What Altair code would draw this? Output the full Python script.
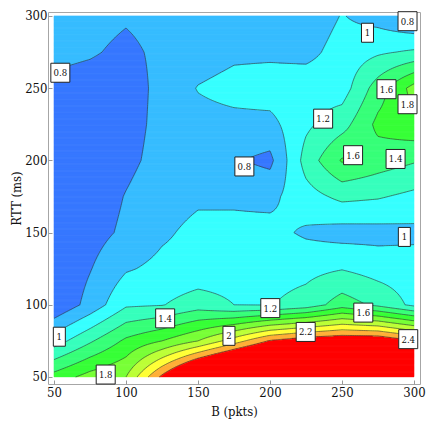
import numpy as np
import pandas as pd
import altair as alt

# ---------------- data ----------------
B_PKTS = [50, 75, 100, 125, 150, 175, 200, 225, 250, 275, 300]
RTT_MS = [50, 75, 100, 125, 150, 175, 200, 225, 250, 275, 300]

# measured quantity at each (RTT row, B column)
Z_RTT_050 = [1.68, 1.88, 2.00, 2.65, 3.25, 3.60, 3.80, 4.00, 4.00, 4.00, 4.00]
Z_RTT_075 = [1.10, 1.37, 1.64, 1.80, 2.00, 2.30, 2.62, 2.75, 2.80, 2.80, 2.62]
Z_RTT_100 = [0.62, 0.87, 1.17, 1.19, 1.30, 1.20, 1.19, 1.28, 1.50, 1.35, 1.15]
Z_RTT_125 = [0.62, 0.79, 0.98, 1.05, 1.07, 1.10, 1.12, 1.14, 1.19, 1.12, 1.10]
Z_RTT_150 = [0.60, 0.72, 0.84, 0.97, 1.05, 1.05, 1.06, 0.97, 0.92, 0.93, 0.95]
Z_RTT_175 = [0.60, 0.68, 0.81, 0.92, 0.97, 0.97, 0.95, 1.12, 1.25, 1.22, 1.15]
Z_RTT_200 = [0.62, 0.66, 0.75, 0.87, 0.90, 0.82, 0.75, 1.28, 1.62, 1.50, 1.42]
Z_RTT_225 = [0.66, 0.68, 0.72, 0.86, 0.93, 0.94, 0.94, 1.16, 1.32, 1.65, 1.75]
Z_RTT_250 = [0.75, 0.72, 0.70, 0.86, 1.01, 1.07, 1.10, 1.12, 1.10, 1.50, 1.88]
Z_RTT_275 = [0.85, 0.82, 0.76, 0.84, 0.90, 0.96, 0.96, 0.94, 1.08, 1.17, 1.23]
Z_RTT_300 = [0.90, 0.86, 0.82, 0.86, 0.88, 0.88, 0.88, 0.87, 1.01, 0.92, 0.78]

Z_GRID = [Z_RTT_050, Z_RTT_075, Z_RTT_100, Z_RTT_125, Z_RTT_150, Z_RTT_175,
          Z_RTT_200, Z_RTT_225, Z_RTT_250, Z_RTT_275, Z_RTT_300]

LEVELS = [0.8, 1.0, 1.2, 1.4, 1.6, 1.8, 2.0, 2.2, 2.4, 2.6]
BAND_COLORS = ["#3878ff", "#38bdff", "#38ffff", "#38ffbd", "#38ff7a",
               "#38ff38", "#7aff38", "#bdff38", "#ffff38", "#ffb038", "#ff0000"]

LABEL_TEXT = ["0.8", "1", "0.8", "1.6", "1.8", "1.2", "0.8", "1.6", "1.4",
              "1", "1.2", "1.4", "2", "1.6", "2.2", "2.4", "1", "1.8"]
LABEL_B = [54.4, 267.7, 295.5, 280.9, 295.5, 236.9, 182.2, 257.7, 287.2,
           293.3, 200.2, 127.2, 171.5, 264.8, 224.8, 296.0, 53.7, 85.9]
LABEL_RTT = [260.7, 288.4, 296.4, 249.3, 238.9, 228.9, 195.8, 203.6, 201.0,
             147.0, 97.7, 90.6, 78.5, 94.6, 81.2, 76.2, 77.9, 51.7]

TICKS = [50, 100, 150, 200, 250, 300]

# ---------------- field evaluation (bilinear on the grid) ----------------
Z = np.array(Z_GRID, dtype=float)
bx = np.array(B_PKTS, dtype=float)
ry = np.array(RTT_MS, dtype=float)


def row_values(y, xs):
    zc = np.array([np.interp(y, ry, Z[:, j]) for j in range(len(bx))])
    return np.interp(xs, bx, zc)


# filled bands as run-length rects
dy = 0.6
xs = np.arange(50, 300.00001, 0.1)
rects = []
y0 = 50.0
while y0 < 300 - 1e-9:
    y1 = min(y0 + dy, 300.0)
    vals = row_values((y0 + y1) / 2, xs)
    bands = np.searchsorted(LEVELS, vals, side="right")
    change = np.nonzero(np.diff(bands))[0]
    starts = np.concatenate([[0], change + 1])
    ends = np.concatenate([change, [len(xs) - 1]])
    for s, e in zip(starts, ends):
        xa = 50.0 if s == 0 else (xs[s - 1] + xs[s]) / 2
        xb = 300.0 if e == len(xs) - 1 else (xs[e] + xs[e + 1]) / 2
        rects.append({"x": xa, "x2": min(xb + 0.3, 300.0), "y": y0,
                      "y2": min(y0 + dy * 1.6, 300.0), "c": BAND_COLORS[bands[s]]})
    y0 = y1
rect_df = pd.DataFrame(rects)

# contour lines with marching squares
gx = np.linspace(50, 300, 201)
gy = np.linspace(50, 300, 201)
G = np.array([row_values(y, gx) for y in gy])
segs = []
for L in LEVELS:
    ab = G >= L
    case = (ab[:-1, :-1] * 1 + ab[:-1, 1:] * 2 + ab[1:, 1:] * 4 + ab[1:, :-1] * 8)
    for i, j in np.argwhere((case != 0) & (case != 15)):
        xa, xb, ya, yb = gx[j], gx[j + 1], gy[i], gy[i + 1]
        v00, v10, v11, v01 = G[i, j], G[i, j + 1], G[i + 1, j + 1], G[i + 1, j]
        pts = {}
        if (v00 >= L) != (v10 >= L):
            pts["b"] = (xa + (L - v00) / (v10 - v00) * (xb - xa), ya)
        if (v10 >= L) != (v11 >= L):
            pts["r"] = (xb, ya + (L - v10) / (v11 - v10) * (yb - ya))
        if (v01 >= L) != (v11 >= L):
            pts["t"] = (xa + (L - v01) / (v11 - v01) * (xb - xa), yb)
        if (v00 >= L) != (v01 >= L):
            pts["l"] = (xa, ya + (L - v00) / (v01 - v00) * (yb - ya))
        keys = list(pts.keys())
        if len(keys) == 2:
            pairs = [(keys[0], keys[1])]
        elif len(keys) == 4:
            cen = (v00 + v10 + v11 + v01) / 4
            if (cen >= L) == (v00 >= L):
                pairs = [("b", "r"), ("t", "l")]
            else:
                pairs = [("l", "b"), ("r", "t")]
        else:
            pairs = []
        for p, q in pairs:
            segs.append({"x": pts[p][0], "y": pts[p][1], "x2": pts[q][0], "y2": pts[q][1]})
seg_df = pd.DataFrame(segs)

lab_df = pd.DataFrame({"t": LABEL_TEXT, "x": LABEL_B, "y": LABEL_RTT})
lab_df["narrow"] = lab_df["t"].str.len() == 1

# ---------------- chart ----------------
FONT = "DejaVu Serif Condensed, DejaVu Serif"
XS = alt.Scale(domain=[45.833, 304.167], nice=False, zero=False)
YS = alt.Scale(domain=[45.15, 302.77], nice=False, zero=False)

x_axis = alt.Axis(values=TICKS, grid=False, domain=False, tickSize=4, tickColor="#999999",
                  tickWidth=1, offset=-4, labelPadding=2, labelFont=FONT, labelFontSize=13,
                  labelColor="#111111", titleFont=FONT, titleFontSize=13,
                  titleFontWeight="normal", titleColor="#111111", titlePadding=6)
y_axis = alt.Axis(values=TICKS, grid=False, domain=False, tickSize=4, tickColor="#999999",
                  tickWidth=1, offset=-4, labelPadding=1, labelFont=FONT, labelFontSize=13,
                  labelColor="#111111", titleFont=FONT, titleFontSize=13,
                  titleFontWeight="normal", titleColor="#111111", titlePadding=1)

fill = alt.Chart(rect_df).mark_rect(strokeWidth=0.4).encode(
    x=alt.X("x:Q", scale=XS, axis=x_axis, title="B (pkts)"),
    x2="x2:Q",
    y=alt.Y("y:Q", scale=YS, axis=y_axis, title="RTT (ms)"),
    y2="y2:Q",
    color=alt.Color("c:N", scale=None),
    stroke=alt.Stroke("c:N", scale=None),
)

lines = alt.Chart(seg_df).mark_rule(color="#303030", strokeWidth=0.7, opacity=0.85).encode(
    x=alt.X("x:Q", scale=XS), y=alt.Y("y:Q", scale=YS), x2="x2:Q", y2="y2:Q"
)

WIDE = "M-0.95,-0.95H0.95V0.95H-0.95Z"
NARROW = "M-0.6,-0.95H0.6V0.95H-0.6Z"

box_w = alt.Chart(lab_df).transform_filter("!datum.narrow").mark_point(
    shape=WIDE, size=400, filled=True, fill="white", stroke="#222222", strokeWidth=1, opacity=1
).encode(x=alt.X("x:Q", scale=XS), y=alt.Y("y:Q", scale=YS))

box_n = alt.Chart(lab_df).transform_filter("datum.narrow").mark_point(
    shape=NARROW, size=400, filled=True, fill="white", stroke="#222222", strokeWidth=1, opacity=1
).encode(x=alt.X("x:Q", scale=XS), y=alt.Y("y:Q", scale=YS))

texts = alt.Chart(lab_df).mark_text(font=FONT, fontSize=9.5, color="#111111",
                                    baseline="middle", align="center", dy=0.5).encode(
    x=alt.X("x:Q", scale=XS), y=alt.Y("y:Q", scale=YS), text="t:N"
)

chart = alt.layer(fill, lines, box_w, box_n, texts).properties(
    width=372, height=372,
    autosize=alt.AutoSizeParams(type="none"),
    padding={"left": 40, "top": 4, "right": 8, "bottom": 38},
).configure_view(stroke="#a6a6a6", strokeWidth=1)

chart.save("out.html", embed_options={"renderer": "svg", "actions": False})
